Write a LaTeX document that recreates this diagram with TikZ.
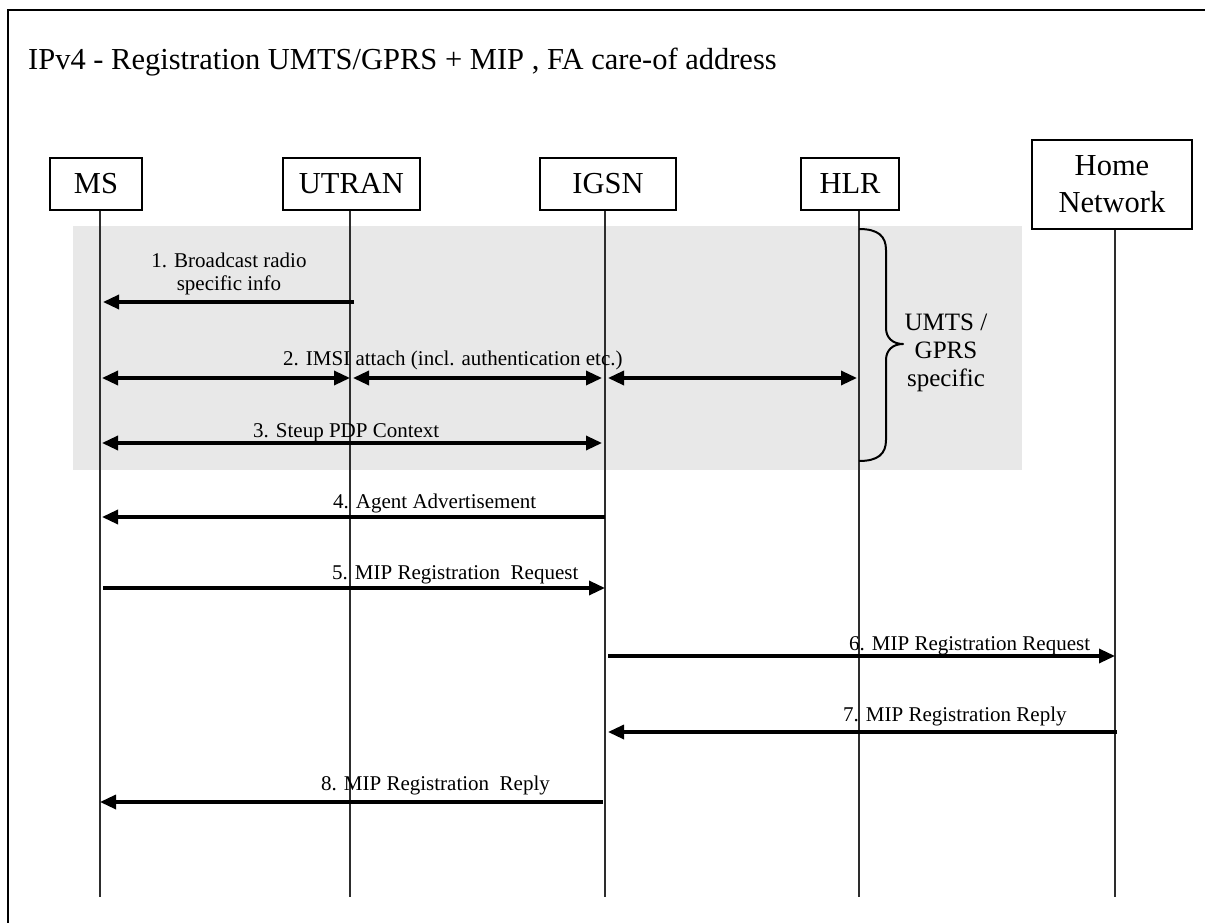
\documentclass[tikz,border=0pt]{standalone}
\usepackage{fontspec}
\setmainfont{Liberation Serif}
\usetikzlibrary{arrows.meta,calc}
\definecolor{band}{RGB}{232,232,232}
\definecolor{lifeline}{RGB}{45,45,45}
\begin{document}
\begin{tikzpicture}[x=1pt,y=-1pt,
  >={Triangle[length=16pt,width=14pt]},
  entity/.style={draw=black, line width=1.2pt, fill=white, inner sep=0pt,
    align=center, font=\fontsize{30.5}{37}\selectfont},
  life/.style={draw=lifeline, line width=1.2pt},
  msg/.style={line width=3.3pt, ->},
  msgboth/.style={line width=3.3pt, <->},
  lbl/.style={inner sep=0pt, anchor=base west, font=\fontsize{21}{24}\selectfont},
  lblc/.style={inner sep=0pt, anchor=base, font=\fontsize{21}{24}\selectfont},
  bracetext/.style={inner sep=0pt, anchor=base, font=\fontsize{25}{28}\selectfont}]

\useasboundingbox (0,0) rectangle (1205,923);

% shaded UMTS/GPRS-specific phase
\fill[band] (73,226) rectangle (1022,470);

% outer frame
\draw[line width=1.5pt] (8,923) -- (8,10) -- (1205,10);

% title
\node[inner sep=0pt, anchor=base west, font=\fontsize{30.5}{36}\selectfont]
  (title) at (28,70) {IPv4 - Registration UMTS/GPRS + MIP , FA care-of address};

% entities
\node[entity, minimum width=92pt, minimum height=52pt]  (ms)    at (96,184)    {MS};
\node[entity, minimum width=137pt, minimum height=52pt] (utran) at (351.5,184) {UTRAN};
\node[entity, minimum width=136pt, minimum height=52pt] (igsn)  at (608,184)   {IGSN};
\node[entity, minimum width=98pt, minimum height=52pt]  (hlr)   at (850,184)   {HLR};
\node[entity, minimum width=160pt, minimum height=89pt] (home)  at (1112,184.5) {Home\\Network};

% lifeline ends
\coordinate (msEnd)    at (100,897);
\coordinate (utranEnd) at (350,897);
\coordinate (igsnEnd)  at (605,897);
\coordinate (hlrEnd)   at (859,897);
\coordinate (homeEnd)  at (1115,897);

\draw[life] (msEnd |- ms.south) -- (msEnd);
\draw[life] (utranEnd |- utran.south) -- (utranEnd);
\draw[life] (igsnEnd |- igsn.south) -- (igsnEnd);
\draw[life] (hlrEnd |- hlr.south) -- (hlrEnd);
\draw[life] (homeEnd |- home.south) -- (homeEnd);

% message rows
\coordinate (r1) at (0,302);
\coordinate (r2) at (0,378);
\coordinate (r3) at (0,443);
\coordinate (r4) at (0,517);
\coordinate (r5) at (0,588);
\coordinate (r6) at (0,656);
\coordinate (r7) at (0,732);
\coordinate (r8) at (0,802);

% 1
\draw[msg] ($(utranEnd |- r1)+(4,0)$) -- ($(msEnd |- r1)+(3,0)$);
\node[lblc] (l1a) at (229,267) {1. Broadcast radio};
\node[lblc] (l1b) at (229,290) {specific info};

% 2
\draw[msgboth] ($(msEnd |- r2)+(2,0)$) -- (utranEnd |- r2);
\draw[msgboth] ($(utranEnd |- r2)+(3,0)$) -- ($(igsnEnd |- r2)+(-3,0)$);
\draw[msgboth] ($(igsnEnd |- r2)+(3,0)$) -- ($(hlrEnd |- r2)+(-2,0)$);
\node[lbl] (l2) at (283,365) {2. IMSI attach (incl. authentication etc.)};

% 3
\draw[msgboth] ($(msEnd |- r3)+(2,0)$) -- ($(igsnEnd |- r3)+(-3,0)$);
\node[lbl] (l3) at (253,437) {3. Steup PDP Context};

% UMTS / GPRS specific brace
\draw[line width=2pt, line join=round]
  (hlrEnd |- 0,229) .. controls (878,229) and (886,236) .. (886,250)
  -- (886,328) .. controls (886,338) and (893,344) .. (903,344)
  .. controls (893,344) and (886,350) .. (886,360)
  -- (886,440) .. controls (886,454) and (878,461) .. (hlrEnd |- 0,461);
\node[bracetext] (b1) at (946,330) {UMTS /};
\node[bracetext] (b2) at (946,358) {GPRS};
\node[bracetext] (b3) at (946,386) {specific};

% 4
\draw[msg] (igsnEnd |- r4) -- ($(msEnd |- r4)+(2,0)$);
\node[lbl] (l4) at (333,508) {4. Agent Advertisement};

% 5
\draw[msg] ($(msEnd |- r5)+(3,0)$) -- (igsnEnd |- r5);
\node[lbl] (l5) at (332,579) {5. MIP Registration~ Request};

% 6
\draw[msg] ($(igsnEnd |- r6)+(3,0)$) -- (homeEnd |- r6);
\node[lbl] (l6) at (849,650) {6. MIP Registration Request};

% 7
\draw[msg] ($(homeEnd |- r7)+(2,0)$) -- ($(igsnEnd |- r7)+(3,0)$);
\node[lbl] (l7) at (843,721) {7. MIP Registration Reply};

% 8
\draw[msg] ($(igsnEnd |- r8)+(-2,0)$) -- (msEnd |- r8);
\node[lbl] (l8) at (321,790) {8. MIP Registration~ Reply};

\end{tikzpicture}
\end{document}
